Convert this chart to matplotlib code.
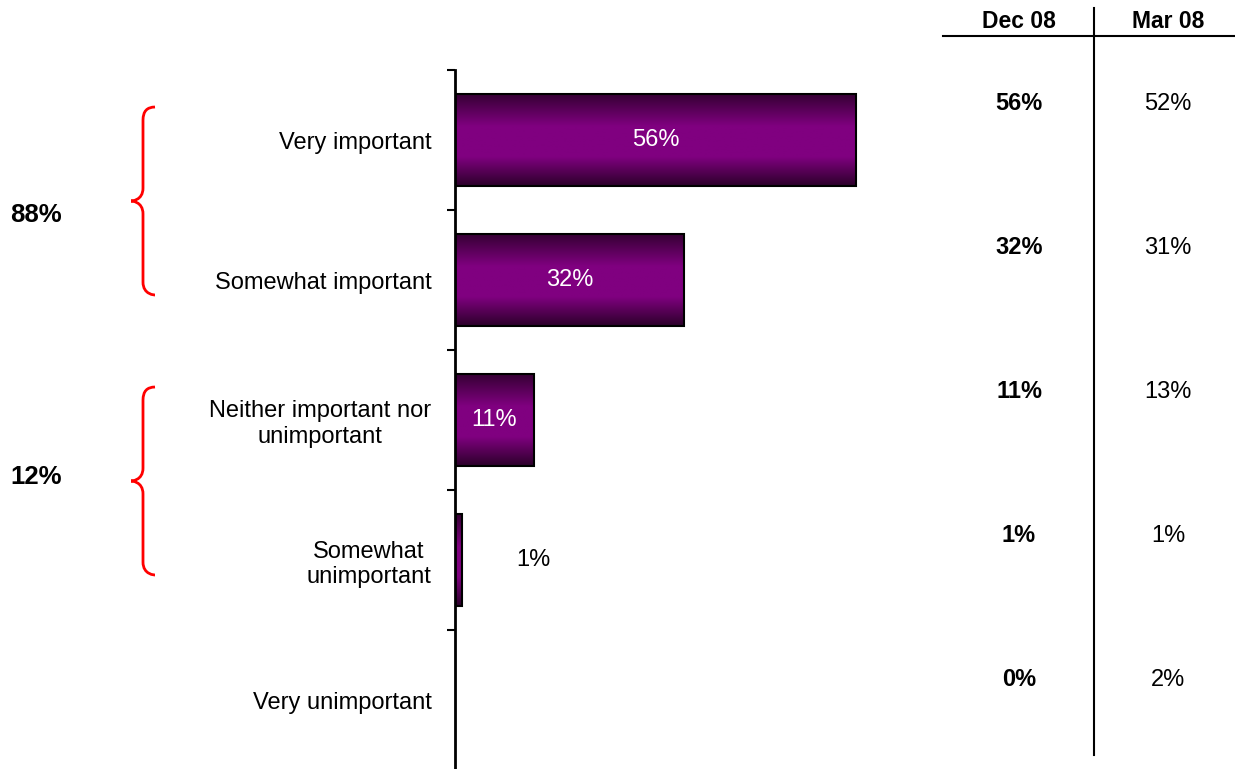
import matplotlib
matplotlib.use("Agg")
import matplotlib.pyplot as plt
import numpy as np
from matplotlib.colors import LinearSegmentedColormap
from matplotlib.path import Path
from matplotlib.patches import PathPatch

plt.rcParams['font.family'] = ['Liberation Sans', 'DejaVu Sans']

categories = ["Very important", "Somewhat important",
              "Neither important nor\nunimportant",
              "Somewhat\nunimportant", "Very unimportant"]
dec08 = [56, 32, 11, 1, 0]
mar08 = [52, 31, 13, 1, 2]
group_totals = ["88%", "12%"]
columns = ["Dec 08", "Mar 08"]

W, H = 1235, 769
fig = plt.figure(figsize=(W / 100, H / 100), dpi=100)

# main bar axes
ax_left, ax_top = 455, 70
px_per_pct = 7.16
xmax = 70
ax = fig.add_axes([ax_left / W, -1 / H, xmax * px_per_pct / W, (H + 1 - ax_top) / H])

grad_cmap = LinearSegmentedColormap.from_list(
    "bar", [(0.0, "#360034"), (0.35, "#800080"), (0.68, "#800080"), (1.0, "#2c002a")])
grad = np.linspace(0, 1, 256).reshape(-1, 1)

y = np.arange(len(categories))
bar_h = 0.657
bars = ax.barh(y, dec08, height=bar_h, color="none", edgecolor="black", linewidth=1.5, zorder=3)
for rect, v in zip(bars, dec08):
    if v <= 0:
        continue
    x0, y0 = rect.get_x(), rect.get_y()
    im = ax.imshow(grad, extent=[x0, x0 + rect.get_width(), y0 + rect.get_height(), y0],
                   aspect="auto", cmap=grad_cmap, zorder=2)
    im.set_clip_path(rect)

for yi, v in zip(y, dec08):
    if v >= 5:
        ax.text(v / 2, yi, f"{v}%", ha="center", va="center", color="white", fontsize=17, zorder=4)
    elif v > 0:
        ax.text(v + 7.5, yi, f"{v}%", ha="left", va="center", color="black", fontsize=17, zorder=4)

ax.set_xlim(0, xmax)
ax.set_ylim(len(categories) - 0.5, -0.5)
for s in ["top", "right", "bottom"]:
    ax.spines[s].set_visible(False)
ax.spines["left"].set_linewidth(2)
ax.set_xticks([])
ax.set_yticks(y)
ax.set_yticklabels(categories, fontsize=17)
for lbl in ax.get_yticklabels():
    lbl.set_multialignment("center")
ax.tick_params(axis="y", which="major", length=0, pad=17)
ax.set_yticks(np.arange(-0.5, len(categories) - 1, 1.0), minor=True)
ax.tick_params(axis="y", which="minor", length=6, width=1.5, direction="out")
ax.patch.set_alpha(0)

# overlay in pixel coordinates for braces and the comparison table
ov = fig.add_axes([0, 0, 1, 1], zorder=-1)
ov.set_xlim(0, W)
ov.set_ylim(H, 0)
ov.axis("off")


def brace(ax_, x_tip, x_mid, x_end, y_top, y_bot, color="red"):
    ym = (y_top + y_bot) / 2
    c = 13
    verts = [(x_end, y_top), (x_mid, y_top), (x_mid, y_top + c),
             (x_mid, ym - c),
             (x_mid, ym), (x_tip, ym), (x_tip, ym),
             (x_tip, ym), (x_mid, ym), (x_mid, ym + c),
             (x_mid, y_bot - c),
             (x_mid, y_bot), (x_end, y_bot), (x_end, y_bot)]
    codes = [Path.MOVETO, Path.CURVE3, Path.CURVE3,
             Path.LINETO,
             Path.CURVE4, Path.CURVE4, Path.CURVE4,
             Path.CURVE4, Path.CURVE4, Path.CURVE4,
             Path.LINETO,
             Path.CURVE4, Path.CURVE4, Path.CURVE4]
    ax_.add_patch(PathPatch(Path(verts, codes), fill=False, edgecolor=color, linewidth=2))


brace(ov, 131, 143, 155, 107, 295)
brace(ov, 131, 143, 155, 387, 575)
ov.text(36, 215, group_totals[0], ha="center", va="center", fontsize=18.5, fontweight="bold")
ov.text(36, 477, group_totals[1], ha="center", va="center", fontsize=18.5, fontweight="bold")

# comparison table
col_x = [1019, 1168]
ov.plot([943, W], [36, 36], color="black", linewidth=1.5)
ov.plot([1094, 1094], [8, 755], color="black", linewidth=1.5)
for cx, name in zip(col_x, columns):
    ov.text(cx, 21, name, ha="center", va="center", fontsize=16.5, fontweight="bold")
for i, (d, m) in enumerate(zip(dec08, mar08)):
    ry = 104 + 144 * i
    ov.text(col_x[0], ry, f"{d}%", ha="center", va="center", fontsize=17, fontweight="bold")
    ov.text(col_x[1], ry, f"{m}%", ha="center", va="center", fontsize=17)

fig.savefig("out.png", dpi=100)
